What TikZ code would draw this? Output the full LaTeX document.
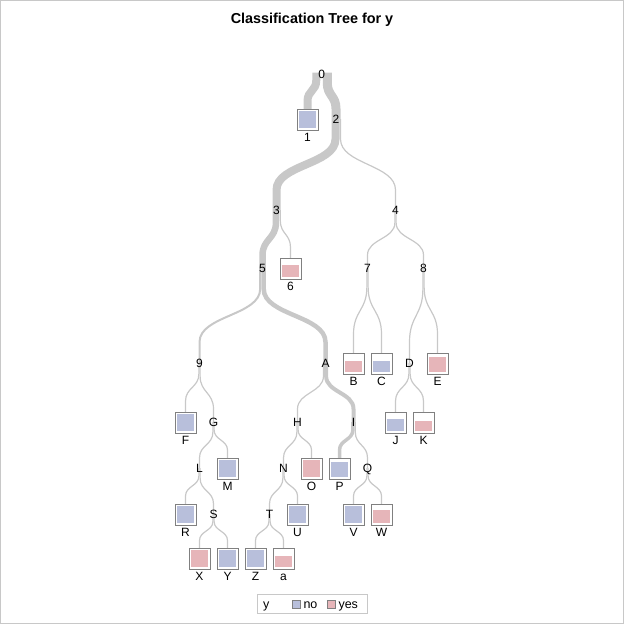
\documentclass[tikz,border=0pt]{standalone}
\usepackage{fontspec}
\setmainfont{Liberation Sans}
\usetikzlibrary{calc,backgrounds}
\definecolor{edgegray}{RGB}{200,200,200}
\definecolor{boxgray}{RGB}{128,128,128}
\definecolor{noblue}{RGB}{184,191,219}
\definecolor{yespink}{RGB}{230,181,185}
\definecolor{framegray}{RGB}{200,200,200}
\tikzset{
  edgeline/.style={draw=edgegray},
  lbl/.style={inner sep=0pt,outer sep=0pt,text height=8.6pt,text depth=0pt,font=\fontsize{12}{14}\selectfont},
  leafbox/.style={draw=boxgray,line width=1pt,fill=white,minimum size=21pt,inner sep=0pt,outer sep=0pt},
}
\newcommand\tedge[3]{\draw[edgeline,line width=#3] let \p1=#1, \p2=#2 in (\p1) -- (\x1,{\y1+0.22*(\y2-\y1)}) .. controls (\x1,{0.5*(\y1+\y2)}) and (\x2,{0.5*(\y1+\y2)}) .. (\x2,{\y2-0.22*(\y2-\y1)}) -- (\p2);}
\newcommand\leaf[6]{%
  \node[leafbox] (#1) at (#2,{#3+0.5}) {};
  \fill[#5] ($(#1.south west)+(2,-2)$) rectangle ($(#1.south east)+(-2,{-2-17*#6})$);
  \node[lbl] (#1t) at ($(#1.south)+(0,6.8)$) {#4};
}
\begin{document}
\begin{tikzpicture}[x=1pt,y=-1pt]
\useasboundingbox (0,0) rectangle (624,624);
\draw[framegray,line width=1pt] (0.5,0.5) rectangle (623.5,623.5);
\node[font=\bfseries\fontsize{14.4}{16}\selectfont,inner sep=0pt] (title) at (312,20) {Classification Tree for y};
% internal nodes
\node[lbl] (n0) at (321.75,74) {0};
\node[lbl] (n2) at (336,119) {2};
\node[lbl] (n3) at (276.5,210) {3};
\node[lbl] (n4) at (395.5,210) {4};
\node[lbl] (n5) at (262.5,268) {5};
\node[lbl] (n7) at (367.5,268) {7};
\node[lbl] (n8) at (423.5,268) {8};
\node[lbl] (n9) at (199.5,363) {9};
\node[lbl] (nA) at (325.5,363) {A};
\node[lbl] (nD) at (409.5,363) {D};
\node[lbl] (nG) at (213.5,422) {G};
\node[lbl] (nH) at (297.5,422) {H};
\node[lbl] (nI) at (353.5,422) {I};
\node[lbl] (nL) at (199.5,468) {L};
\node[lbl] (nN) at (283.5,468) {N};
\node[lbl] (nQ) at (367.5,468) {Q};
\node[lbl] (nS) at (213.5,514) {S};
\node[lbl] (nT) at (269.5,514) {T};
% leaves
\leaf{b1}{307.5}{119}{1}{noblue}{1}
\leaf{b6}{290.5}{268}{6}{yespink}{0.71}
\leaf{bB}{353.5}{363}{B}{yespink}{0.65}
\leaf{bC}{381.5}{363}{C}{noblue}{0.65}
\leaf{bE}{437.5}{363}{E}{yespink}{0.89}
\leaf{bF}{185.5}{422}{F}{noblue}{1}
\leaf{bJ}{395.5}{422}{J}{noblue}{0.73}
\leaf{bK}{423.5}{422}{K}{yespink}{0.56}
\leaf{bM}{227.5}{468}{M}{noblue}{1}
\leaf{bO}{311.5}{468}{O}{yespink}{1}
\leaf{bP}{339.5}{468}{P}{noblue}{0.91}
\leaf{bR}{185.5}{514}{R}{noblue}{1}
\leaf{bU}{297.5}{514}{U}{noblue}{1}
\leaf{bV}{353.5}{514}{V}{noblue}{1}
\leaf{bW}{381.5}{514}{W}{yespink}{0.76}
\leaf{bX}{199.5}{558}{X}{yespink}{1}
\leaf{bY}{227.5}{558}{Y}{noblue}{1}
\leaf{bZ}{255.5}{558}{Z}{noblue}{1}
\leaf{ba}{283.5}{558}{a}{yespink}{0.67}
% edges
\begin{pgfonlayer}{background}
\tedge{($(n0)+(-5.5,-1.5)$)}{(b1.north)}{8}
\tedge{($(n0)+(5.5,-1.5)$)}{(n2)}{9}
\tedge{($(n2)+(-0.5,0)$)}{(n3)}{8}
\tedge{($(n2)+(4.5,0)$)}{(n4)}{1.2}
\tedge{($(n3)+(-0.6,0)$)}{(n5)}{6.5}
\tedge{($(n3)+(3.8,0)$)}{(b6.north)}{1.2}
\tedge{($(n4)+(-0.6,0)$)}{(n7)}{1.2}
\tedge{($(n4)+(0.6,0)$)}{(n8)}{1.2}
\tedge{($(n5)+(-2.3,0)$)}{(n9)}{2}
\tedge{($(n5)+(1.2,0)$)}{(nA)}{4.5}
\tedge{($(n7)+(-0.6,0)$)}{(bB.north)}{1.2}
\tedge{($(n7)+(0.6,0)$)}{(bC.north)}{1.2}
\tedge{($(n8)+(-0.6,0)$)}{(nD)}{1.2}
\tedge{($(n8)+(0.6,0)$)}{(bE.north)}{1.2}
\tedge{($(n9)+(-0.6,0)$)}{(bF.north)}{1.2}
\tedge{($(n9)+(0.6,0)$)}{(nG)}{1.2}
\tedge{($(nA)+(-2,0)$)}{(nH)}{1.2}
\tedge{($(nA)+(0.6,0)$)}{(nI)}{4}
\tedge{($(nD)+(-0.6,0)$)}{(bJ.north)}{1.2}
\tedge{($(nD)+(0.6,0)$)}{(bK.north)}{1.2}
\tedge{($(nG)+(-0.6,0)$)}{(nL)}{1.2}
\tedge{($(nG)+(0.6,0)$)}{(bM.north)}{1.2}
\tedge{($(nH)+(-0.6,0)$)}{(nN)}{1.2}
\tedge{($(nH)+(0.6,0)$)}{(bO.north)}{1.2}
\tedge{($(nI)+(-0.6,0)$)}{(bP.north)}{3.5}
\tedge{($(nI)+(1.8,0)$)}{(nQ)}{1.2}
\tedge{($(nL)+(-0.6,0)$)}{(bR.north)}{1.2}
\tedge{($(nL)+(0.6,0)$)}{(nS)}{1.2}
\tedge{($(nN)+(-0.6,0)$)}{(nT)}{1.2}
\tedge{($(nN)+(0.6,0)$)}{(bU.north)}{1.2}
\tedge{($(nQ)+(-0.6,0)$)}{(bV.north)}{1.2}
\tedge{($(nQ)+(0.6,0)$)}{(bW.north)}{1.2}
\tedge{($(nS)+(-0.6,0)$)}{(bX.north)}{1.2}
\tedge{($(nS)+(0.6,0)$)}{(bY.north)}{1.2}
\tedge{($(nT)+(-0.6,0)$)}{(bZ.north)}{1.2}
\tedge{($(nT)+(0.6,0)$)}{(ba.north)}{1.2}
\end{pgfonlayer}
% legend
\node[draw=framegray,line width=1pt,minimum width=110pt,minimum height=19pt,inner sep=0pt] (legend) at (312,603.5) {};
\node[lbl,anchor=west,font=\fontsize{12.5}{14}\selectfont] (legy) at (263,604) {y};
\node[draw=boxgray,fill=noblue,line width=0.8pt,minimum size=8pt,inner sep=0pt] (swno) at (296,604) {};
\node[lbl,anchor=west,font=\fontsize{12.5}{14}\selectfont] (legno) at (303.5,604) {no};
\node[draw=boxgray,fill=yespink,line width=0.8pt,minimum size=8pt,inner sep=0pt] (swyes) at (331,604) {};
\node[lbl,anchor=west,font=\fontsize{12.5}{14}\selectfont] (legyes) at (338.5,604) {yes};
\end{tikzpicture}
\end{document}
